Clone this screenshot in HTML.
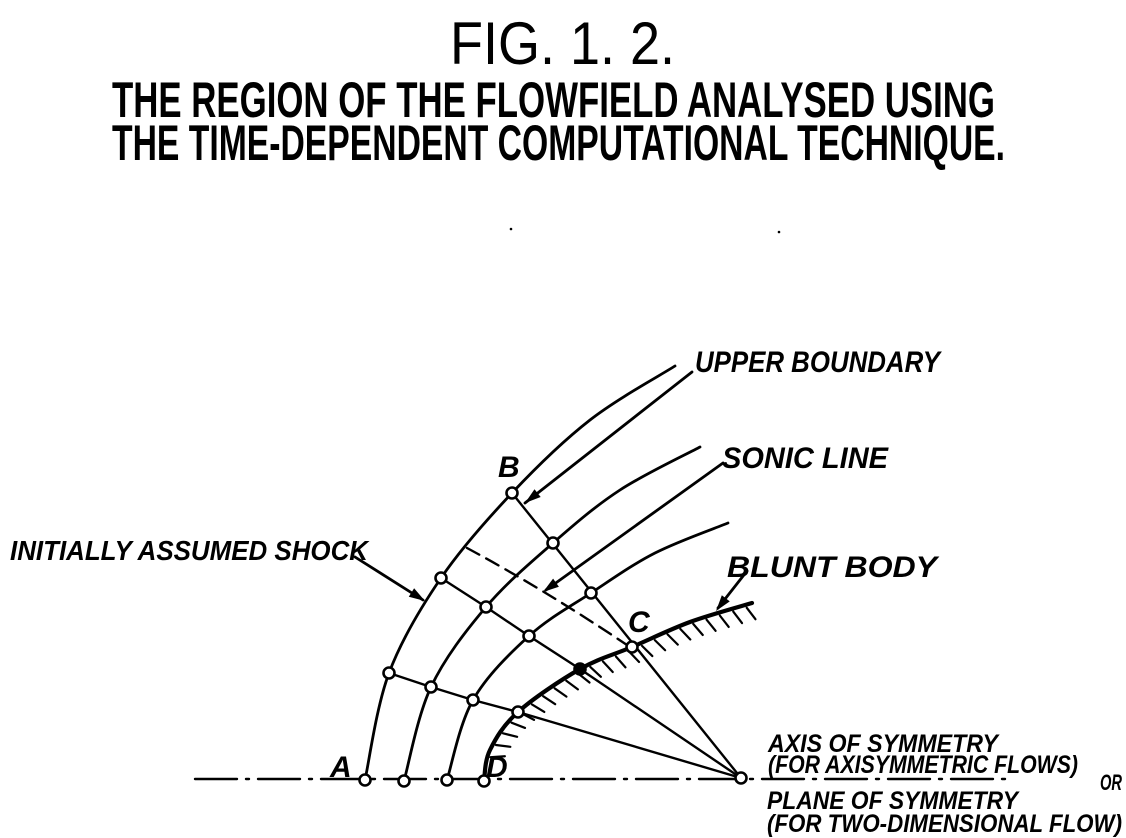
<!DOCTYPE html>
<html><head><meta charset="utf-8"><style>
html,body{margin:0;padding:0;background:#fff}
svg{display:block}
text{font-family:"Liberation Sans Narrow","Liberation Sans",sans-serif;fill:#000}
.lbl{font-style:italic;font-weight:bold}
</style></head><body>
<svg id="fig" width="1126" height="838" viewBox="0 0 1126 838" xmlns="http://www.w3.org/2000/svg">
<text x="450" y="64" style="font-size:60px" textLength="225" lengthAdjust="spacingAndGlyphs">FIG. 1. 2.</text>
<text x="112" y="117" style="font-size:50px;font-weight:bold" textLength="883" lengthAdjust="spacingAndGlyphs">THE REGION OF THE FLOWFIELD ANALYSED USING</text>
<text x="112" y="160" style="font-size:50px;font-weight:bold" textLength="893" lengthAdjust="spacingAndGlyphs">THE TIME-DEPENDENT COMPUTATIONAL TECHNIQUE.</text>
<circle cx="511" cy="229" r="1.3" fill="#000"/><circle cx="779" cy="232" r="1.3" fill="#000"/>
<g id="lines" fill="none" stroke="#000" stroke-width="2.8" stroke-linecap="round"></g>
<g id="nodes"></g>
<g>
<text class="lbl" x="695" y="372" style="font-size:30px" textLength="245" lengthAdjust="spacingAndGlyphs">UPPER BOUNDARY</text>
<text class="lbl" x="722" y="468" style="font-size:30px" textLength="166" lengthAdjust="spacingAndGlyphs">SONIC LINE</text>
<text class="lbl" x="10" y="560" style="font-size:28px" textLength="358" lengthAdjust="spacingAndGlyphs">INITIALLY ASSUMED SHOCK</text>
<text class="lbl" x="727" y="577" style="font-size:30px" textLength="210" lengthAdjust="spacingAndGlyphs">BLUNT BODY</text>
<text class="lbl" x="498" y="477" style="font-size:30px">B</text>
<text class="lbl" x="628" y="632" style="font-size:30px">C</text>
<text class="lbl" x="330" y="777" style="font-size:30px">A</text>
<text class="lbl" x="486" y="777" style="font-size:30px">D</text>
<text class="lbl" x="768" y="752" style="font-size:25px" textLength="230" lengthAdjust="spacingAndGlyphs">AXIS OF SYMMETRY</text>
<text class="lbl" x="768" y="773" style="font-size:25px" textLength="310" lengthAdjust="spacingAndGlyphs">(FOR AXISYMMETRIC FLOWS)</text>
<text class="lbl" x="1100" y="790" style="font-size:22px" textLength="22" lengthAdjust="spacingAndGlyphs">OR</text>
<text class="lbl" x="767" y="809" style="font-size:25px" textLength="251" lengthAdjust="spacingAndGlyphs">PLANE OF SYMMETRY</text>
<text class="lbl" x="767" y="832" style="font-size:25px" textLength="355" lengthAdjust="spacingAndGlyphs">(FOR TWO-DIMENSIONAL FLOW)</text>
</g>
</svg>
<script>
var NS="http://www.w3.org/2000/svg";
var shockPts=[[365,780],[389,673],[441,578],[512,493],[590,420],[675,366]];
var line2Pts=[[404,781],[431,687],[486,607],[553,543],[620,490],[700,447]];
var line3Pts=[[447,780],[473,700],[529,636],[591,593],[655,553],[728,523]];
var bodyPts=[[484,781],[490,750],[518,712],[580,669],[632,647],[690,622],[752,603]];
var center=[741,778];
var openNodes=[[365,780],[404,781],[447,780],[484,781],[389,673],[441,578],[512,493],[431,687],[486,607],[553,543],[473,700],[529,636],[591,593],[518,712],[632,647],[741,778]];
var filledNodes=[[580,669]];
var g=document.getElementById('lines'),gn=document.getElementById('nodes');
function cr(p){var d="M"+p[0][0]+","+p[0][1];for(var i=0;i<p.length-1;i++){var a=p[i-1]||p[i],b=p[i],c=p[i+1],e=p[i+2]||c;d+=" C"+(b[0]+(c[0]-a[0])/6)+","+(b[1]+(c[1]-a[1])/6)+" "+(c[0]-(e[0]-b[0])/6)+","+(c[1]-(e[1]-b[1])/6)+" "+c[0]+","+c[1];}return d;}
function path(d,name,w,dash){var e=document.createElementNS(NS,'path');e.setAttribute('d',d);if(w)e.setAttribute('stroke-width',w);if(dash)e.setAttribute('stroke-dasharray',dash);


g.appendChild(e);return e;}
path("M195,779 L1010,779","axis-of-symmetry",2.4,"42,9,3,9");
path(cr(shockPts),"initial-shock");
path(cr(line2Pts),"grid-line-2");
path(cr(line3Pts),"grid-line-3");
var body=path(cr(bodyPts),"blunt-body",4.2);
path("M512,493 L741,778","radial-line-1",2.4);
path("M441,578 L486,607 L529,636 L580,669 L741,778","radial-line-2",2.4);
path("M389,673 L431,687 L473,700 L518,712 L741,778","radial-line-3",2.4);
path("M467,548 Q545,590 627,645","sonic-line",2.4,"14,8");
path("M692,372 L525,503","upper-boundary-arrow");
path("M723,463 L546,590","sonic-arrow");
path("M355,557 L423,600","shock-arrow");
path("M747,571 L718,608","body-arrow");
function head(x1,y1,x2,y2,name){var a=Math.atan2(y2-y1,x2-x1),L=16,W=5;var p=[[x2,y2],[x2-L*Math.cos(a)+W*Math.sin(a),y2-L*Math.sin(a)-W*Math.cos(a)],[x2-L*Math.cos(a)-W*Math.sin(a),y2-L*Math.sin(a)+W*Math.cos(a)]];
var e=document.createElementNS(NS,'polygon');e.setAttribute('points',p.map(function(q){return q.join(',')}).join(' '));e.setAttribute('fill','#000');


document.getElementById('fig').insertBefore(e,gn);}
head(692,372,525,503,'upper-boundary-arrowhead');head(723,463,543,592,'sonic-arrowhead');head(355,557,425,601,'shock-arrowhead');head(747,571,716,611,'body-arrowhead');
var L=body.getTotalLength();
for(var s=25;s<L-5;s+=14){var p=body.getPointAtLength(s),q=body.getPointAtLength(s+1);var tx=q.x-p.x,ty=q.y-p.y,n=Math.hypot(tx,ty);tx/=n;ty/=n;var nx=-ty,ny=tx;if(nx<0){nx=-nx;ny=-ny;}
var hx=nx*0.9+tx*0.35,hy=ny*0.9+ty*0.35;
path("M"+(p.x+nx*3)+","+(p.y+ny*3)+" l"+(hx*15)+","+(hy*15),"body-hatch",2.2);}
function node(c,fill,name){var e=document.createElementNS(NS,'circle');e.setAttribute('cx',c[0]);e.setAttribute('cy',c[1]);e.setAttribute('r',5.5);e.setAttribute('fill',fill);e.setAttribute('stroke','#000');e.setAttribute('stroke-width',2.6);


gn.appendChild(e);}
openNodes.forEach(function(c){node(c,'#fff','grid-node');});
filledNodes.forEach(function(c){node(c,'#000','grid-node-filled');});
</script>
</body></html>
